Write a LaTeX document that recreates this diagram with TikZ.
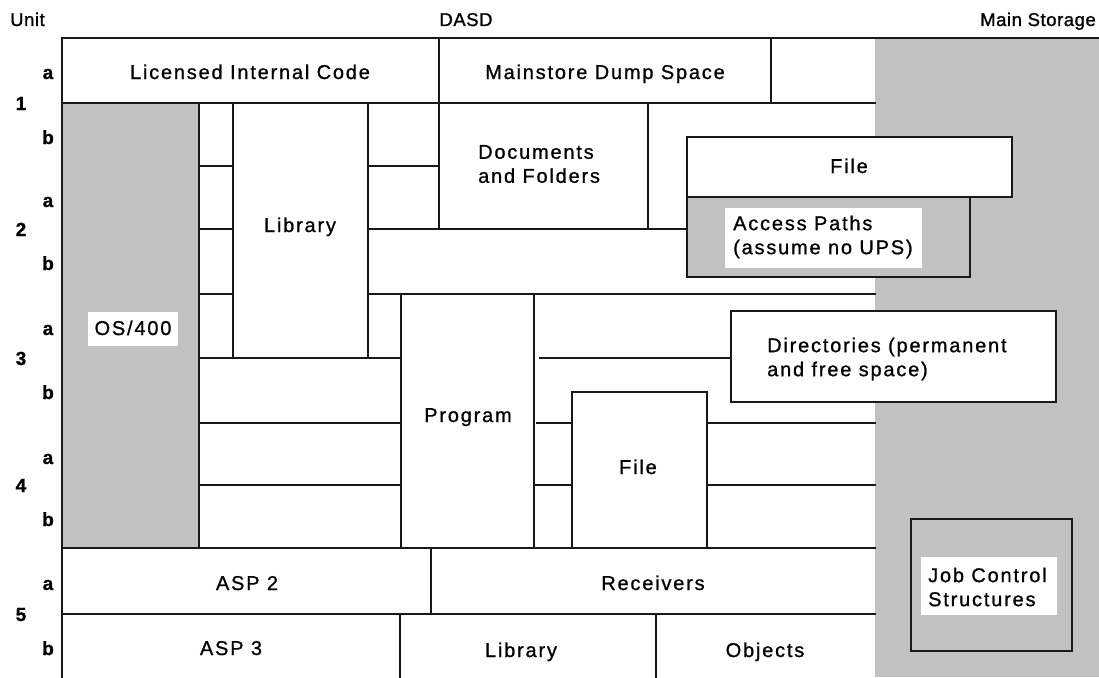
\documentclass[tikz,border=0pt]{standalone}
\usepackage{fontspec}
\setmainfont{Liberation Sans}[LetterSpace=9, FakeBold=0.9]
\newfontfamily\headfont{Liberation Sans}[LetterSpace=3, FakeBold=1.2]
\definecolor{stip}{gray}{0.76}
\begin{document}
\begin{tikzpicture}[x=1pt,y=-1pt,
  rule/.style={line width=1.4pt, draw=black!90, line cap=rect},
  lbl/.style={font=\fontsize{20}{24}\selectfont, inner sep=0pt, anchor=base},
  lbll/.style={font=\fontsize{20}{24}\selectfont, inner sep=0pt, align=left, anchor=west},
  hdr/.style={font=\headfont\fontsize{18.5}{22}\selectfont, inner sep=0pt, anchor=base},
  unitlbl/.style={font=\bfseries\fontsize{19}{22}\selectfont, inner sep=0pt, anchor=base},
  textbg/.style={fill=white, draw=none},
]
\useasboundingbox (0,0) rectangle (1099,677);

% shaded areas: main storage and OS/400
\fill[stip] (875,38) rectangle (1099,677);
\fill[stip] (62,103) rectangle (199,548);

% outer frame
\draw[rule] (62,677) -- (62,38) -- (1099,38);

% unit 1a
\draw[rule] (62,103) -- (875,103);
\draw[rule] (439,38) -- (439,103) (771,38) -- (771,103);

% OS/400 column edge
\draw[rule] (199,103) -- (199,548);

% narrow cells beside the library
\draw[rule] (233,103) -- (233,358);
\draw[rule] (199,166) -- (233,166) (199,229) -- (233,229) (199,294) -- (233,294);
\draw[rule] (368,103) -- (368,358);
\draw[rule] (368,166) -- (439,166);
\draw[rule] (439,103) -- (439,229);
\draw[rule] (648,103) -- (648,229);
\draw[rule] (368,229) -- (875,229);
\draw[rule] (368,294) -- (875,294);

% cells left of the program
\draw[rule] (199,358) -- (401,358);
\draw[rule] (199,423) -- (401,423);
\draw[rule] (199,485) -- (401,485);

% program column
\draw[rule] (401,294) -- (401,548);
\draw[rule] (534,294) -- (534,548);

% cells right of the program
\draw[rule] (540,358) -- (731,358);
\draw[rule] (537,423) -- (572,423) (707,423) -- (875,423);
\draw[rule] (534,485) -- (572,485) (707,485) -- (875,485);

% lower file box
\draw[rule] (572,548) -- (572,392) -- (707,392) -- (707,548);

% unit 5
\draw[rule] (62,548) -- (875,548);
\draw[rule] (62,614) -- (875,614);
\draw[rule] (431,548) -- (431,614);
\draw[rule] (400,614) -- (400,677) (656,614) -- (656,677);

% boxes lying across the DASD / main storage boundary
\draw[rule, fill=white] (687,137) rectangle (1012,197);
\draw[rule, fill=stip] (687,197) rectangle (970,277);
\draw[rule, fill=white] (731,311) rectangle (1056,402);
\draw[rule, fill=stip] (911,519) rectangle (1072,651);

% white backing behind labels on shaded areas
\fill[textbg] (88,312) rectangle (178,346);
\fill[textbg] (725,208) rectangle (922,268);
\fill[textbg] (921,557) rectangle (1057,615);

% headings
\node[hdr, anchor=base west] (hunit) at (10,26) {Unit};
\node[hdr] (hdasd) at (466,26) {DASD};
\node[hdr] (hmain) at (1038,26) {Main Storage};

% unit numbers and halves
\foreach \n/\y in {1/110, 2/236, 3/365, 4/492, 5/621}
  \node[unitlbl] (u\n) at (21,\y) {\n};
\foreach \s/\y [count=\i] in {a/79, b/144, a/207, b/270, a/335, b/399, a/464, b/526, a/590, b/655}
  \node[unitlbl] (h\i) at (48,\y) {\s};

% box labels
\node[lbl] (lic) at (250,79) {Licensed Internal Code};
\node[lbl] (dump) at (605,79) {Mainstore Dump Space};
\node[lbl] (lib1) at (300,232) {Library};
\node[lbll] (docs) at (478,164) {Documents\\and Folders};
\node[lbl] (file1) at (849,173) {File};
\node[lbll] (acc) at (733,237) {Access Paths\\(assume no UPS)};
\node[lbl] (os) at (133,335) {OS/400};
\node[lbl] (prog) at (468,422) {Program};
\node[lbll] (dirs) at (767,359) {Directories (permanent\\and free space)};
\node[lbl] (file2) at (638,474) {File};
\node[lbl] (asp2) at (247,590) {ASP 2};
\node[lbl] (recv) at (653,590) {Receivers};
\node[lbl] (asp3) at (231,655) {ASP 3};
\node[lbl] (lib2) at (521,657) {Library};
\node[lbl] (objs) at (765,657) {Objects};
\node[lbll] (job) at (928,587) {Job Control\\Structures};
\end{tikzpicture}
\end{document}
